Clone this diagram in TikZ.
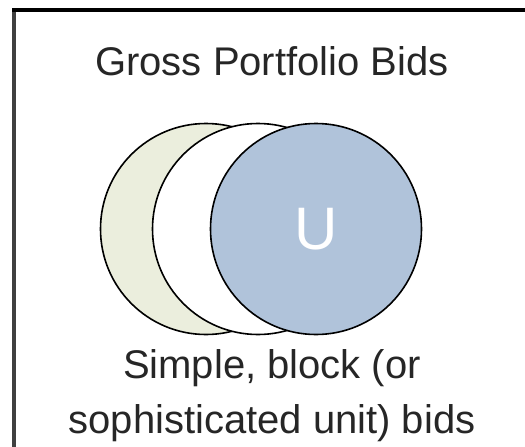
\documentclass[tikz,border=0pt]{standalone}
\usepackage{fontspec}
\setmainfont{Liberation Sans}
\usepackage{tikz}
\usetikzlibrary{positioning}
\definecolor{bidgreen}{RGB}{235,238,221}
\definecolor{bidblue}{RGB}{176,195,218}
\definecolor{frame}{RGB}{64,64,64}

\begin{document}
\begin{tikzpicture}[x=1pt, y=-1pt,
    set/.style={circle, draw=black, line width=1.6pt, minimum size=211pt, inner sep=0pt},
    label/.style={font=\fontsize{40}{55}\selectfont, text=black!85, inner sep=0pt}]
    \useasboundingbox (0,0) rectangle (525,447);
    \draw[frame, line width=4pt] (14,447) -- (14,8);
    \draw[black, line width=4pt] (12,10) -- (525,10);
    \node[label, anchor=base] (title) at (272,75) {Gross Portfolio Bids};
    \node[set, fill=bidgreen] (gross) at (206,229) {};
    \node[set, fill=white] (simple) at (258,229) {};
    \node[set, fill=bidblue] (unit) at (316,229) {};
    \node[text=white, inner sep=0pt, font=\fontsize{60}{60}\selectfont] (u) at (unit.center) {U};
    \node[label, align=center, anchor=base] (caption) at (272,433) {Simple, block (or\\sophisticated unit) bids};
\end{tikzpicture}
\end{document}
